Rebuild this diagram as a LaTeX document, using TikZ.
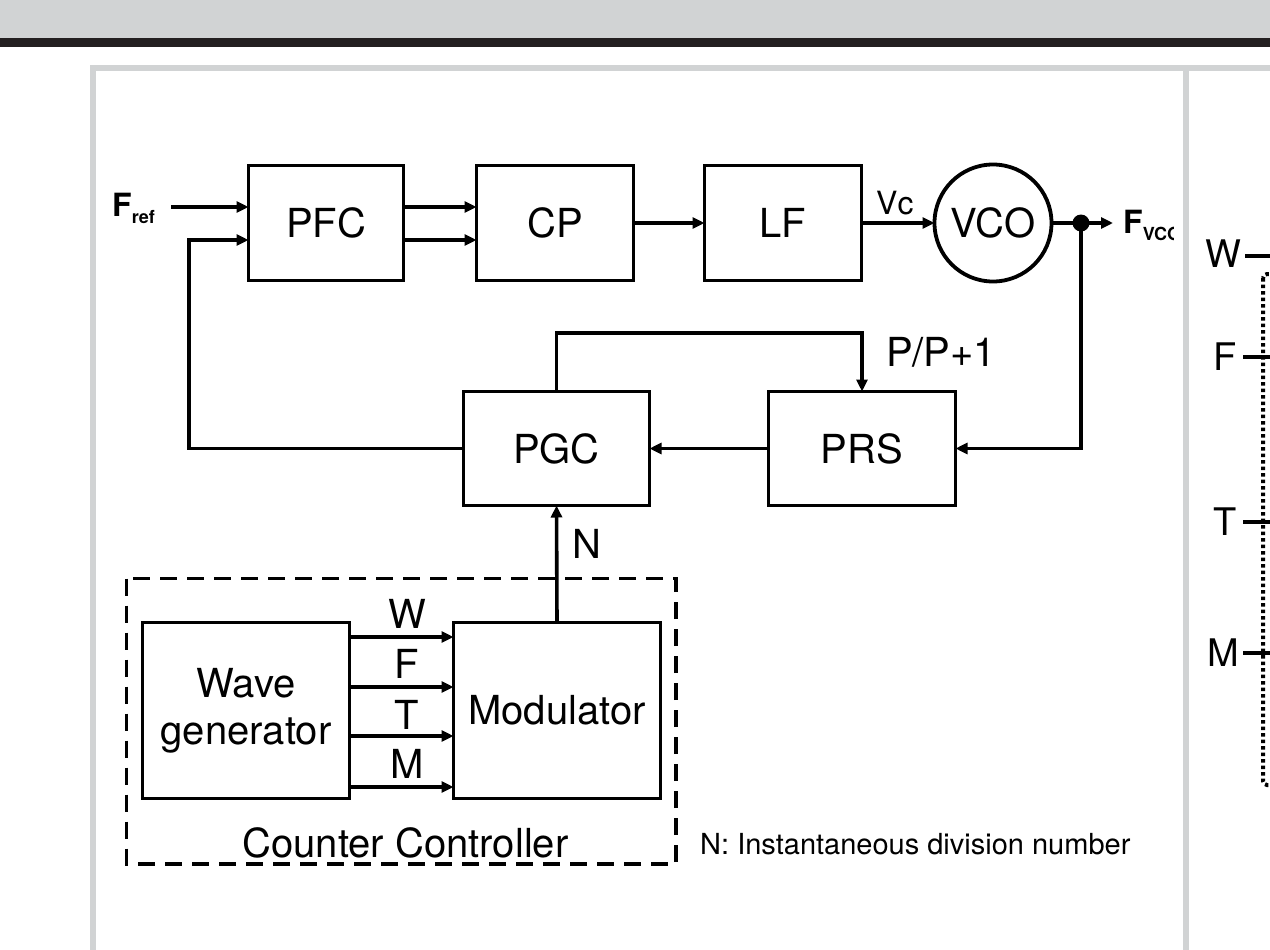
\documentclass[tikz,border=0pt]{standalone}
\usepackage{fontspec}
\setmainfont{TeX Gyre Heros}
\usetikzlibrary{arrows.meta,calc}
\definecolor{panelgrey}{RGB}{209,211,212}
\definecolor{darkbar}{RGB}{35,31,32}
\begin{document}
\begin{tikzpicture}[x=1pt,y=-1pt,
  blk/.style={draw, line width=3.8pt, inner sep=0pt, outer sep=0pt,
    font=\fontsize{40}{47}\selectfont, align=center},
  wire/.style={line width=3.6pt},
  arr/.style={wire, -{Triangle[length=12pt,width=11pt]}},
  lbl/.style={inner sep=0pt, outer sep=0pt, font=\fontsize{40}{47}\selectfont},
  sidelbl/.style={inner sep=0pt, outer sep=0pt, font=\fontsize{38}{44}\selectfont, anchor=base east},
  tick/.style={line width=3.4pt},
  frame/.style={line width=6pt, panelgrey},
]
\useasboundingbox (0,0) rectangle (1270,950);
\clip (0,0) rectangle (1270,950);
\fill[white] (0,0) rectangle (1270,950);
% header
\fill[panelgrey] (0,0) rectangle (1270,38);
\fill[darkbar] (0,38) rectangle (1270,47);
% panel frames
\draw[frame] (93,950) -- (93,68.5) -- (1270,68.5);
\draw[frame] (1186,68.5) -- (1186,950);

% top row blocks
\node[blk, minimum width=155pt, minimum height=115pt] (pfc) at (326,223) {PFC};
\node[blk, minimum width=157pt, minimum height=115pt] (cp) at (555,223) {CP};
\node[blk, minimum width=157pt, minimum height=115pt] (lf) at (783,223) {LF};
\node[blk, circle, minimum size=117pt] (vco) at (993,223) {VCO};
\node[circle, fill, inner sep=0pt, minimum size=17pt] (dot) at (1081,223) {};
\coordinate (fref) at (171,207);
\coordinate (fb) at (189,240);
\coordinate (fout) at (1113,223);
\coordinate (loop) at (700,333);

% second row
\node[blk, minimum width=186pt, minimum height=114pt] (pgc) at (556.5,448.5) {PGC};
\node[blk, minimum width=187pt, minimum height=114pt] (prs) at (862,448.5) {PRS};

% counter controller
\draw[line width=3.6pt, dash pattern=on 17pt off 10pt] (126.5,578.5) rectangle (676,864);
\node[blk, minimum width=207pt, minimum height=176pt] (wg) at (246,710.5) {Wave\\generator};
\node[blk, minimum width=207pt, minimum height=176pt] (mod) at (557,710.5) {Modulator};

% labels
\node[anchor=base west, inner sep=0pt] (freflbl) at (112,216)
  {{\fontsize{32}{36}\selectfont\bfseries F}\raisebox{-7pt}{\fontsize{18}{20}\selectfont\bfseries ref}};
\begin{scope}
  \clip (1100,150) rectangle (1173,260);
  \node[anchor=base west, inner sep=0pt] (fvcolbl) at (1123,233)
    {{\fontsize{32}{36}\selectfont\bfseries F}\raisebox{-7pt}{\fontsize{18}{20}\selectfont\bfseries VCO}};
\end{scope}
\node[anchor=base west, inner sep=0pt, font=\fontsize{32}{36}\selectfont] (vclbl) at (876,214) {Vc};
\node[lbl, anchor=base west] (pplbl) at (886,366) {P/P+1};
\node[lbl, anchor=base west] (nlbl) at (572,558) {N};
\node[lbl, anchor=base] (wl) at (407,628) {W};
\node[lbl, anchor=base] (fl) at (407,678) {F};
\node[lbl, anchor=base] (tl) at (407,729) {T};
\node[lbl, anchor=base] (ml) at (407,778) {M};
\node[lbl, anchor=base] (cclbl) at (405.5,857) {Counter Controller};
\node[anchor=base west, inner sep=0pt, font=\fontsize{29}{34}\selectfont] (note) at (700,854)
  {N: Instantaneous division number};

% connectors top row
\draw[arr] (fref) -- (pfc.west |- fref);
\draw[arr] (pfc.east |- fref) -- (cp.west |- fref);
\draw[arr] (pfc.east |- fb) -- (cp.west |- fb);
\draw[arr] (cp.east) -- (lf.west);
\draw[arr] (lf.east) -- (vco.west);
\draw[wire] (vco.east) -- (dot.center);
\draw[arr] (dot.center) -- (fout);
\draw[arr] (dot.center) |- (prs.east);
\draw[arr] (prs.west) -- (pgc.east);
\draw[arr] (pgc.north) |- (loop) -| (prs.north);
\draw[arr] (pgc.west) -| (fb) -- (pfc.west |- fb);
\draw[arr] (mod.north) -- (pgc.south);
% W F T M
\foreach \yy in {637,687,736,787}{
  \draw[arr] (wg.east |- 0,\yy) -- (mod.west |- 0,\yy);
}

% right panel
\node[sidelbl] (rw) at (1241,267) {W};
\node[sidelbl] (rf) at (1237,370) {F};
\node[sidelbl] (rt) at (1237,535) {T};
\node[sidelbl] (rm) at (1239,666) {M};
\draw[tick] (rw.east |- 0,256) ++(4,0) -- (1270,256);
\draw[tick] (rf.east |- 0,357) ++(6,0) -- (1270,357);
\draw[tick] (rt.east |- 0,522) ++(6,0) -- (1270,522);
\draw[tick] (rm.east |- 0,653) ++(4,0) -- (1270,653);
\draw[line width=4pt, dash pattern=on 3.5pt off 3pt, rounded corners=4pt] (1263,274) rectangle (1400,785);
\end{tikzpicture}
\end{document}
